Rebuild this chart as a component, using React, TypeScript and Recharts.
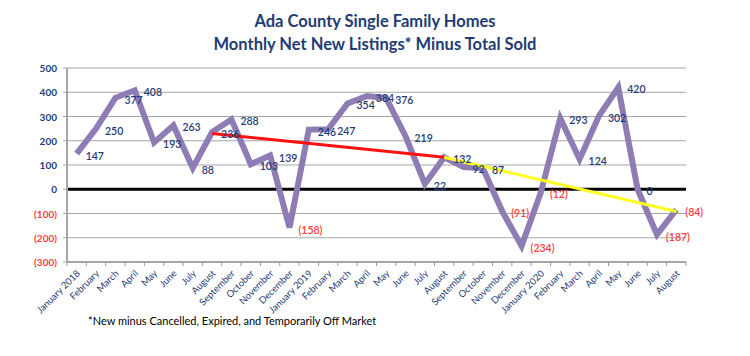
import React from "react";
import {
  CartesianGrid,
  LabelList,
  Line,
  LineChart,
  ReferenceLine,
  XAxis,
  YAxis,
} from "recharts";

const MONTHS = [
  "January 2018", "February", "March", "April", "May", "June", "July", "August",
  "September", "October", "November", "December",
  "January 2019", "February", "March", "April", "May", "June", "July", "August",
  "September", "October", "November", "December",
  "January 2020", "February", "March", "April", "May", "June", "July", "August",
];

const NET_LISTINGS = [
  147, 250, 377, 408, 193, 263, 88, 236, 288, 103, 139, -158,
  246, 247, 354, 384, 376, 219, 22, 132, 92, 87, -91, -234,
  -12, 293, 124, 302, 420, 0, -187, -84,
];

// trend segments: [month index, value]
const RED_TREND: [number, number][] = [[7, 230], [19, 132]];
const YELLOW_TREND: [number, number][] = [[19, 132], [31, -92]];

const Y_TICKS = [-300, -200, -100, 0, 100, 200, 300, 400, 500];

const NAVY = "#1F3C74";
const RED = "#FF3B3B";
const FONT = "Lato, 'Open Sans', sans-serif";
const HALF_BAND = 9.7;

const pick = (seg: [number, number][], i: number) => {
  const hit = seg.find((s) => s[0] === i);
  return hit ? hit[1] : null;
};

const data = MONTHS.map((month, i) => ({
  key: i,
  month,
  value: NET_LISTINGS[i],
  red: pick(RED_TREND, i),
  yellow: pick(YELLOW_TREND, i),
}));

const fmt = (v: number) => (v < 0 ? `(${Math.abs(v)})` : `${v}`);

function YTick(props: any) {
  const { x, y, payload } = props;
  const v = payload.value as number;
  return (
    <text
      x={x - 4}
      y={y}
      textAnchor="end"
      dominantBaseline="central"
      fontSize={10}
      fontWeight={700}
      fontFamily={FONT}
      fill={v < 0 ? RED : NAVY}
    >
      {fmt(v)}
    </text>
  );
}

function XTick(props: any) {
  const { x, y, payload } = props;
  return (
    <g>
      <line x1={x - HALF_BAND} y1={y - 8} x2={x - HALF_BAND} y2={y - 4} stroke="#999" />
      {payload.value === MONTHS.length - 1 && (
        <line x1={x + HALF_BAND} y1={y - 8} x2={x + HALF_BAND} y2={y - 4} stroke="#999" />
      )}
      <text
        x={x + 4}
        y={y + 4}
        textAnchor="end"
        fontSize={9.5}
        fontFamily={FONT}
        fill={NAVY}
        transform={`rotate(-45, ${x + 4}, ${y + 4})`}
      >
        {MONTHS[payload.value]}
      </text>
    </g>
  );
}

function ValueLabel(props: any) {
  const { x, y, value } = props;
  return (
    <text
      x={x + 9}
      y={y + 2}
      dominantBaseline="central"
      fontSize={10.5}
      fontWeight={600}
      fontFamily={FONT}
      fill={value < 0 ? RED : NAVY}
    >
      {fmt(value)}
    </text>
  );
}

export default function App() {
  return (
    <div
      style={{
        position: "absolute",
        left: 0,
        top: 0,
        width: 750,
        height: 356,
        background: "#fff",
        fontFamily: FONT,
      }}
    >
      <div
        style={{
          position: "absolute",
          top: 10,
          width: 750,
          textAlign: "center",
          color: NAVY,
          fontWeight: 700,
          fontSize: 16.5,
          lineHeight: "23px",
        }}
      >
        Ada County Single Family Homes
        <br />
        Monthly Net New Listings* Minus Total Sold
      </div>
      <LineChart
        width={750}
        height={356}
        data={data}
        margin={{ top: 68, right: 64, left: 0, bottom: 0 }}
      >
        <CartesianGrid vertical={false} stroke="#A6A6A6" />
        <XAxis
          dataKey="key"
          interval={0}
          height={94}
          padding={{ left: HALF_BAND, right: HALF_BAND }}
          tick={<XTick />}
          tickLine={false}
          axisLine={{ stroke: "#A6A6A6", strokeWidth: 2 }}
        />
        <YAxis
          width={67}
          domain={[-300, 500]}
          ticks={Y_TICKS}
          tick={<YTick />}
          tickLine={{ stroke: "#A6A6A6" }}
          tickSize={4}
          axisLine={{ stroke: "#A6A6A6", strokeWidth: 2 }}
        />
        <ReferenceLine y={0} stroke="#000" strokeWidth={3} />
        <Line
          dataKey="value"
          stroke="#8E7DB5"
          strokeWidth={6}
          dot={false}
          strokeLinejoin="miter"
          isAnimationActive={false}
        >
          <LabelList dataKey="value" content={<ValueLabel />} />
        </Line>
        <Line
          dataKey="red"
          stroke="#FF1010"
          strokeWidth={3}
          dot={false}
          connectNulls
          isAnimationActive={false}
        />
        <Line
          dataKey="yellow"
          stroke="#FFFF20"
          strokeWidth={3}
          dot={false}
          connectNulls
          isAnimationActive={false}
        />
      </LineChart>
      <div
        style={{
          position: "absolute",
          left: 88,
          top: 314,
          fontSize: 11,
          color: "#000",
        }}
      >
        *New minus Cancelled, Expired, and Temporarily Off Market
      </div>
    </div>
  );
}
